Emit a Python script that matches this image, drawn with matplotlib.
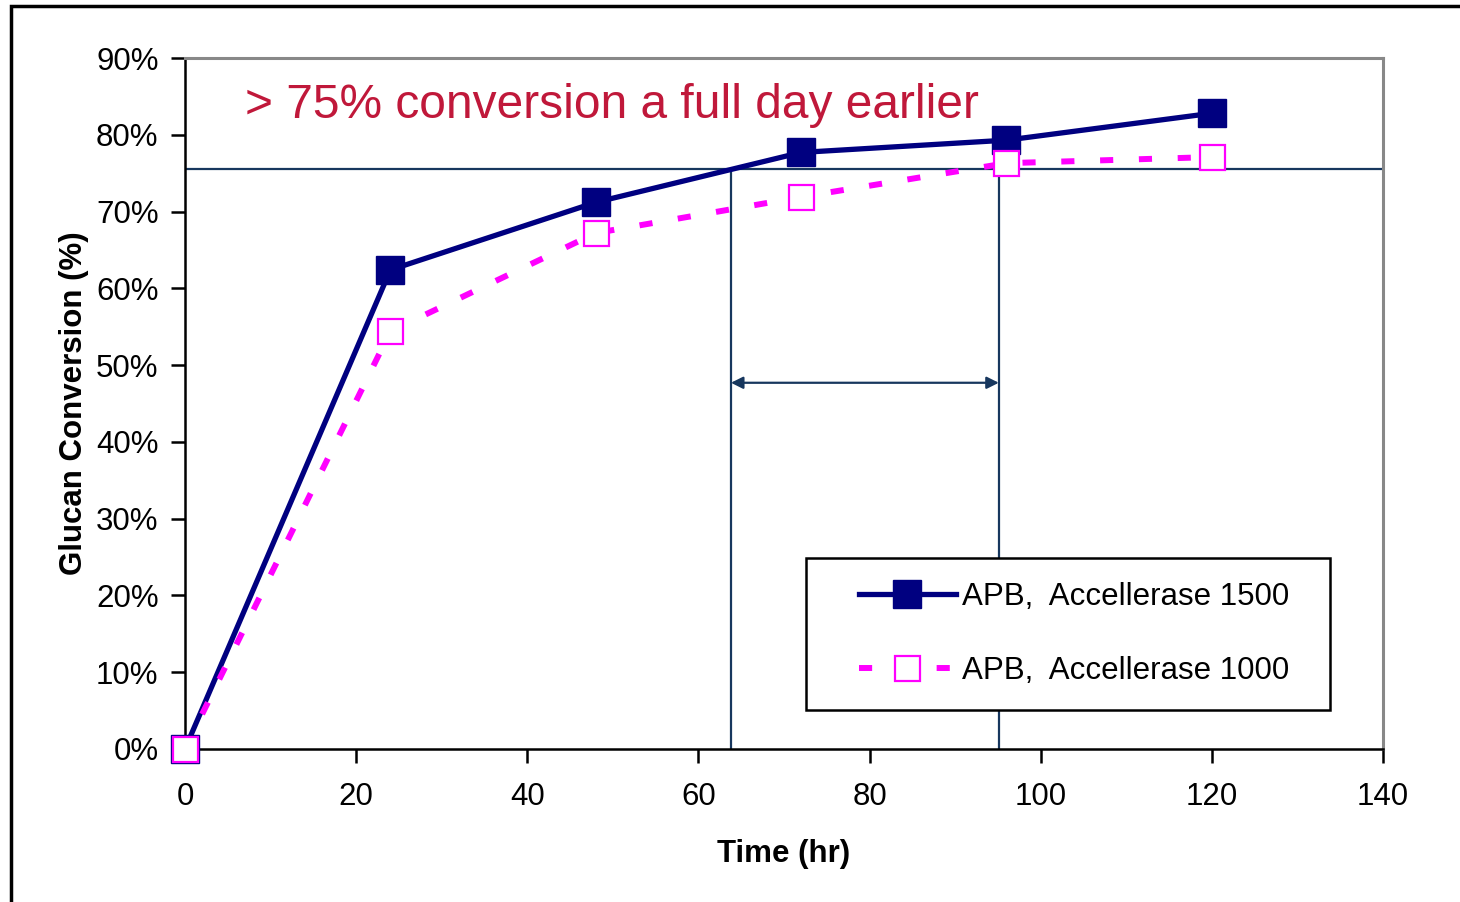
import matplotlib.pyplot as plt
from matplotlib.patches import Rectangle
from matplotlib.ticker import PercentFormatter

# dados
tempo = [0, 24, 48, 72, 96, 120]
acc1500 = [0.0, 62.4, 71.2, 77.7, 79.3, 82.8]
acc1000 = [0.0, 54.4, 67.2, 71.9, 76.3, 77.1]
limiar = 75.5
t_1500 = 63.8
t_1000 = 95.1
y_seta = 47.7

plt.rcParams['font.family'] = ['Liberation Sans', 'DejaVu Sans']

W, H = 1460, 902
fig = plt.figure(figsize=(W / 100, H / 100), dpi=100)
ax = fig.add_axes([185 / W, 1 - 749 / H, (1383 - 185) / W, (749 - 58) / H])

# borda externa da figura
fig.patches.append(Rectangle((11 / W, -0.05), 1.2, 1 - 6 / H + 0.05,
                             transform=fig.transFigure, fill=False,
                             edgecolor='black', linewidth=2.5))

navy = '#17375E'
ax.axhline(limiar, color=navy, linewidth=1.6, zorder=1)
ax.vlines([t_1500, t_1000], 0, limiar, color=navy, linewidth=1.6, zorder=1)
ax.annotate('', xy=(t_1500, y_seta), xytext=(t_1000, y_seta),
            arrowprops=dict(arrowstyle='<|-|>', color=navy, lw=1.6,
                            mutation_scale=18, shrinkA=0, shrinkB=0))

ax.plot(tempo, acc1500, color='#000080', linewidth=3.8, marker='s',
        markersize=20, label='APB,  Accellerase 1500', zorder=3, clip_on=False)
ax.plot(tempo, acc1000, color='#FF00FF', linewidth=4.3, dashes=(2.2, 4.3),
        marker='s', markersize=18, markerfacecolor='white',
        markeredgecolor='#FF00FF', markeredgewidth=1.6,
        label='APB,  Accellerase 1000', zorder=4, clip_on=False)

# titulo em vermelho (posição em pixels)
fig.text(245 / W, 1 - 105 / H, '> 75% conversion a full day earlier',
         color='#C0183A', fontsize=34.5, va='center', ha='left')

ax.set_xlim(0, 140)
ax.set_ylim(0, 90)
ax.set_xticks(range(0, 141, 20))
ax.set_yticks(range(0, 91, 10))
ax.yaxis.set_major_formatter(PercentFormatter(decimals=0))
ax.tick_params(labelsize=22.5, direction='out', length=10, width=1.8)
ax.tick_params(axis='x', pad=14)
ax.tick_params(axis='y', pad=9)

for lado in ['left', 'bottom']:
    ax.spines[lado].set_linewidth(1.8)
    ax.spines[lado].set_color('black')
for lado in ['top', 'right']:
    ax.spines[lado].set_linewidth(2.2)
    ax.spines[lado].set_color('#888888')

ax.set_xlabel('Time (hr)', fontsize=22.5, fontweight='bold', labelpad=19)
ax.set_ylabel('Glucan Conversion (%)', fontsize=22.5, fontweight='bold', labelpad=5)

# legenda sem moldura + moldura desenhada à parte
moldura = Rectangle((806 / W, 1 - 710 / H), (1330 - 806) / W, (710 - 558) / H,
                    transform=fig.transFigure, facecolor='white',
                    edgecolor='black', linewidth=1.8, zorder=5, clip_on=False)
ax.add_patch(moldura)
leg = ax.legend(loc='upper left', bbox_to_anchor=(859 / W, 1 - 582 / H),
                bbox_transform=fig.transFigure,
                fontsize=22.5, frameon=False,
                handlelength=3.1, handletextpad=0.2, labelspacing=1.4,
                borderpad=0, borderaxespad=0)
leg.set_zorder(6)

fig.savefig('out.png', dpi=100)
